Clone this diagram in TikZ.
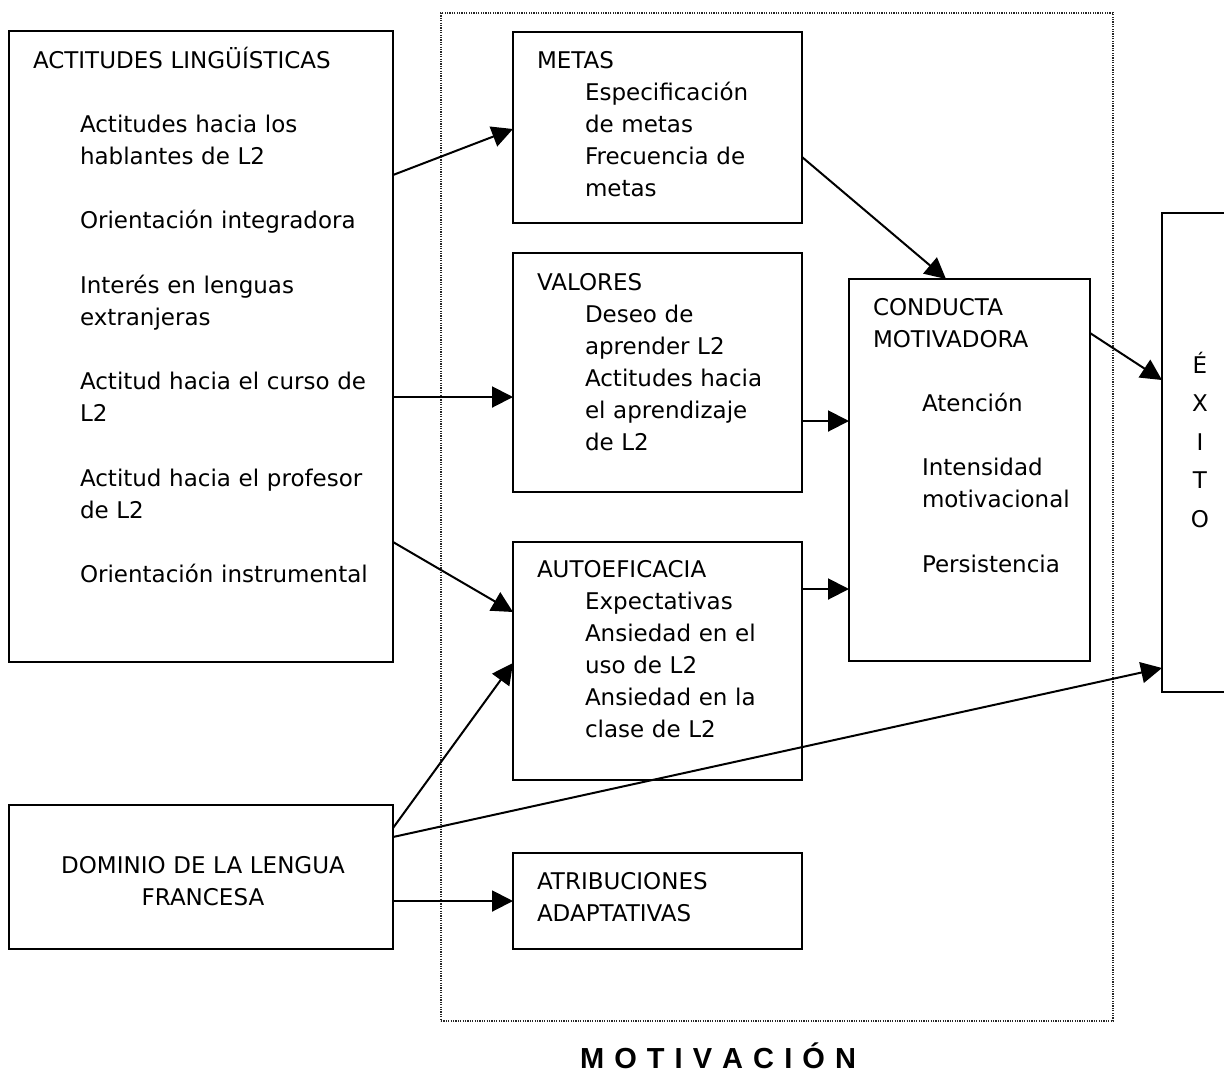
\documentclass[tikz,border=0pt]{standalone}
\usepackage{fontspec}
\setmainfont{DejaVu Sans}
\newfontfamily\motfont{Liberation Sans}[WordSpace=1.25]
\usetikzlibrary{arrows.meta,calc}
\tikzset{
  box/.style={draw=black, line width=2pt, rectangle, inner sep=0pt, outer sep=0pt},
  dotbox/.style={draw=black!85, line width=1.2pt, dash pattern=on 1.2pt off 1.2pt, rectangle, inner sep=0pt, outer sep=0pt},
  txt/.style={anchor=base west, inner sep=0pt, outer sep=0pt, text width=400pt, align=left,
              font=\fontsize{23}{32.2}\selectfont},
  ctxt/.style={anchor=base, inner sep=0pt, outer sep=0pt, align=center,
              font=\fontsize{23}{32.2}\selectfont},
  arr/.style={line width=2pt, -{Triangle[length=21pt,width=21pt]}},
}
\begin{document}
\begin{tikzpicture}[x=1pt,y=-1pt]
\useasboundingbox (0,0) rectangle (1224,1072);
\fill[white] (0,0) rectangle (1224,1072);

% dotted motivation frame
\node[dotbox, minimum width=672pt, minimum height=1008pt] (mot) at (777,517) {};

% boxes
\node[box, minimum width=384pt, minimum height=631pt] (act) at (201,346.5) {};
\node[box, minimum width=289pt, minimum height=191pt] (metas) at (657.5,127.5) {};
\node[box, minimum width=289pt, minimum height=239pt] (valores) at (657.5,372.5) {};
\node[box, minimum width=289pt, minimum height=238pt] (autoef) at (657.5,661) {};
\node[box, minimum width=289pt, minimum height=96pt] (atrib) at (657.5,901) {};
\node[box, minimum width=241pt, minimum height=382pt] (conducta) at (969.5,470) {};
\node[box, minimum width=100pt, minimum height=479pt] (exito) at (1212,452.5) {};
\node[box, minimum width=384pt, minimum height=144pt] (dominio) at (201,877) {};

% texts
\node[txt] (actH) at (33,68) {ACTITUDES LINGÜÍSTICAS};
\node[txt] (actI) at (80,132) {Actitudes hacia los\\hablantes de L2\\[32.2pt]Orientación integradora\\[32.2pt]Interés en lenguas\\extranjeras\\[32.2pt]Actitud hacia el curso de\\L2\\[32.2pt]Actitud hacia el profesor\\de L2\\[32.2pt]Orientación instrumental};

\node[txt] (metasH) at (537,68) {METAS};
\node[txt] (metasI) at (585,100) {Especificación\\de metas\\Frecuencia de\\metas};

\node[txt] (valH) at (537,290) {VALORES};
\node[txt] (valI) at (585,322) {Deseo de\\aprender L2\\Actitudes hacia\\el aprendizaje\\de L2};

\node[txt] (autH) at (537,577) {AUTOEFICACIA};
\node[txt] (autI) at (585,609) {Expectativas\\Ansiedad en el\\uso de L2\\Ansiedad en la\\clase de L2};

\node[txt] (atrH) at (537,889) {ATRIBUCIONES\\ADAPTATIVAS};

\node[txt] (conH) at (873,315) {CONDUCTA\\MOTIVADORA};
\node[txt] (conI) at (922,411) {Atención\\[32.2pt]Intensidad\\motivacional\\[32.2pt]Persistencia};

\node[ctxt, text width=384pt] (domT) at (203,873) {DOMINIO DE LA LENGUA\\FRANCESA};

\node[ctxt, text width=40pt, font=\fontsize{23}{38.5}\selectfont] (exT) at (1200,373) {É\\X\\I\\T\\O};

\node[anchor=base, inner sep=0pt, font=\motfont\bfseries\fontsize{29}{32}\selectfont] (motT) at (718,1068) {M O T I V A C I Ó N};

% connectors
\draw[arr] ($(act.north east)+(0,144)$) -- ($(metas.north west)+(0,97)$);
\draw[arr] ($(act.north east)+(0,366)$) -- ($(valores.north west)+(0,144)$);
\draw[arr] ($(act.north east)+(0,511)$) -- ($(autoef.north west)+(0,70)$);
\draw[arr] ($(metas.north east)+(0,125)$) -- ($(conducta.north west)+(97,0)$);
\draw[arr] ($(valores.north east)+(0,168)$) -- ($(conducta.north west)+(0,142)$);
\draw[arr] ($(autoef.north east)+(0,47)$) -- ($(conducta.north west)+(0,310)$);
\draw[arr] ($(conducta.north east)+(0,54)$) -- ($(exito.north west)+(0,167)$);
\draw[arr] ($(dominio.north east)+(0,23)$) -- ($(autoef.north west)+(0,121)$);
\draw[arr] ($(dominio.north east)+(0,32)$) -- ($(exito.north west)+(0,455)$);
\draw[arr] ($(dominio.north east)+(0,96)$) -- ($(atrib.north west)+(0,48)$);
\end{tikzpicture}
\end{document}
